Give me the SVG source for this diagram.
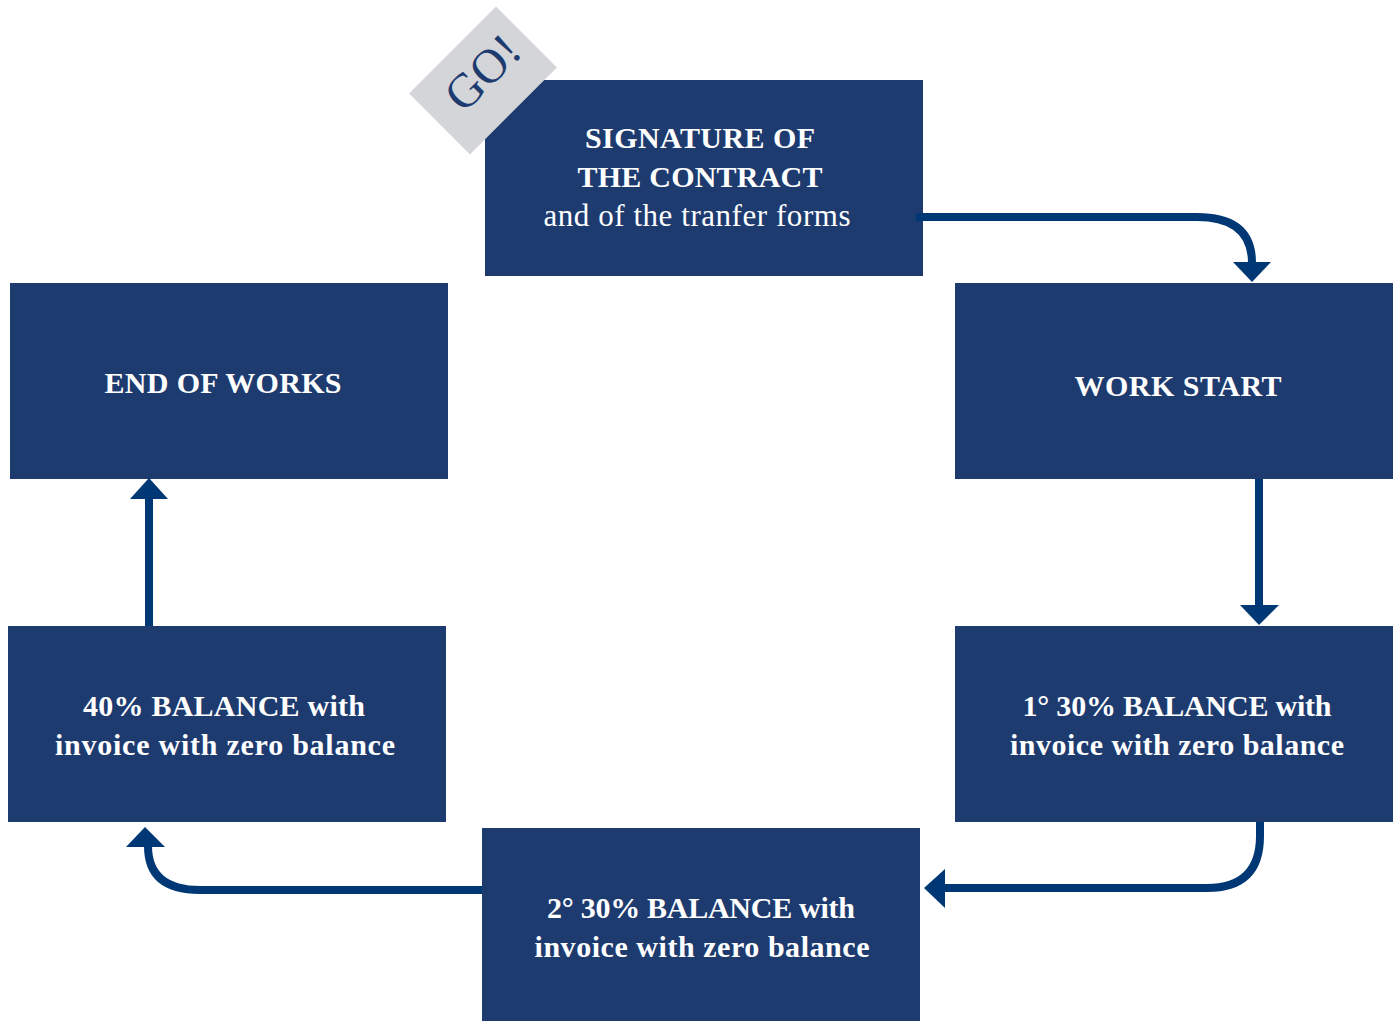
<svg xmlns="http://www.w3.org/2000/svg" width="1399" height="1021" viewBox="0 0 1399 1021">
<style>
.box{fill:#1e3b70}
.t{font-family:"Liberation Serif",serif;font-weight:bold;font-size:30px;fill:#fff;text-anchor:middle}
.r{font-weight:normal;font-size:31px}
.c{fill:none;stroke:#003775;stroke-width:8}
.h{fill:#003775}
</style>
<rect width="1399" height="1021" fill="#fff"/>
<g id="signature">
<rect class="box" x="485" y="80" width="438" height="196"/>
<text class="t" x="700" y="148" textLength="230" lengthAdjust="spacing">SIGNATURE OF</text>
<text class="t" x="700" y="187" textLength="245" lengthAdjust="spacing">THE CONTRACT</text>
<text class="t r" x="697" y="226" textLength="307" lengthAdjust="spacing">and of the tranfer forms</text>
</g>
<g id="go">
<rect x="-61.5" y="-43" width="123" height="86" fill="#d4d5d9" transform="translate(483,80.5) rotate(-45)"/>
<text x="0" y="14" transform="translate(484,74) rotate(-45)" font-family="Liberation Serif,serif" font-size="48" fill="#1e3b70" text-anchor="middle">GO!</text>
</g>
<g id="work-start">
<rect class="box" x="955" y="283" width="438" height="196"/>
<text class="t" x="1178" y="396" textLength="207" lengthAdjust="spacing">WORK START</text>
</g>
<g id="balance1">
<rect class="box" x="955" y="626" width="438" height="196"/>
<text class="t" x="1177" y="716" textLength="309" lengthAdjust="spacing">1° 30% BALANCE with</text>
<text class="t" x="1177" y="755" textLength="334" lengthAdjust="spacing">invoice with zero balance</text>
</g>
<g id="balance2">
<rect class="box" x="482" y="828" width="438" height="193"/>
<text class="t" x="701" y="918" textLength="308" lengthAdjust="spacing">2° 30% BALANCE with</text>
<text class="t" x="702" y="957" textLength="335" lengthAdjust="spacing">invoice with zero balance</text>
</g>
<g id="balance40">
<rect class="box" x="8" y="626" width="438" height="196"/>
<text class="t" x="224" y="716" textLength="282" lengthAdjust="spacing">40% BALANCE with</text>
<text class="t" x="225" y="755" textLength="340" lengthAdjust="spacing">invoice with zero balance</text>
</g>
<g id="end-of-works">
<rect class="box" x="10" y="283" width="438" height="196"/>
<text class="t" x="223" y="393" textLength="237" lengthAdjust="spacing">END OF WORKS</text>
</g>
<g id="connectors">
<path class="c" d="M916,217 H1197 Q1252,217 1252,263"/>
<polygon class="h" points="1233,262 1271,262 1252,282"/>
<path class="c" d="M1259,479 V606"/>
<polygon class="h" points="1240,605 1279,605 1259,625"/>
<path class="c" d="M1260,822 V836 Q1260,888 1207,888 H944"/>
<polygon class="h" points="945,869 945,908 924,888"/>
<path class="c" d="M482,890 H200 Q148,890 148,846"/>
<polygon class="h" points="126,847 165,847 145,827"/>
<path class="c" d="M149,626 V498"/>
<polygon class="h" points="130,499 168,499 149,478"/>
</g>
</svg>
